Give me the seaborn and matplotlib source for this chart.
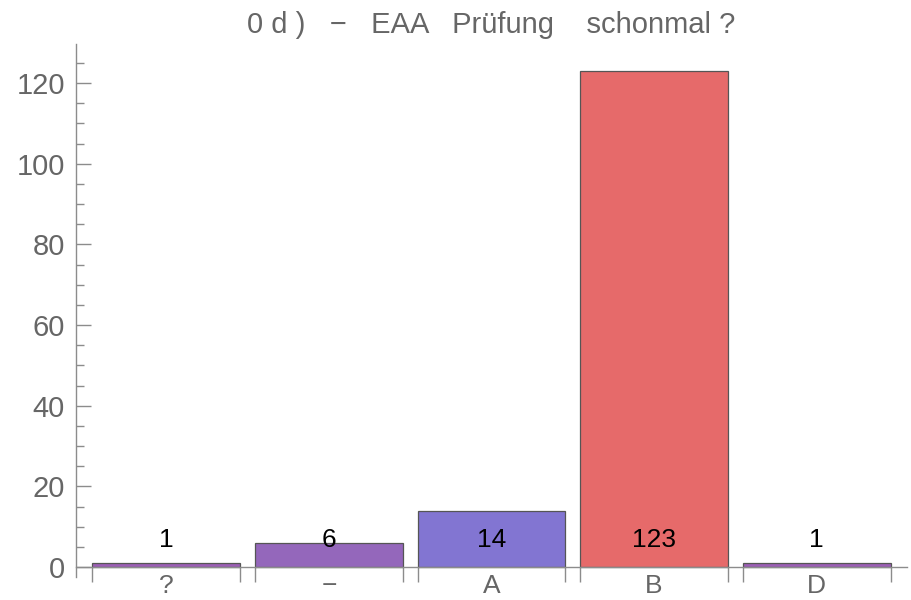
import matplotlib
matplotlib.use("Agg")
import matplotlib.pyplot as plt
import seaborn as sns
import numpy as np
import pandas as pd

# data
categories = ["?", "\u2212", "A", "B", "D"]
counts = [1, 6, 14, 123, 1]
bar_colors = ["#9c5fb6", "#9467bb", "#8275d2", "#e66a6a", "#9c5fb6"]
title = "0 d )   \u2212   EAA   Pr\u00fcfung    schonmal ?"

sns.set_theme(style="white")
plt.rcParams['font.family'] = ['Liberation Sans', 'DejaVu Sans']

df = pd.DataFrame({"cat": categories, "n": counts})

fig = plt.figure(figsize=(9.12, 6), dpi=100)
ax = fig.add_axes([76 / 912, 1 - 577 / 600, (907 - 76) / 912, (577 - 44) / 600])

sns.barplot(data=df, x="cat", y="n", hue="cat", palette=bar_colors, legend=False,
            width=0.91, edgecolor="#555555", linewidth=0.9, saturation=1, ax=ax)

ax.set_xlim(-0.555, 4.555)
ax.set_ylim(-2.48, 129.7)

# value labels, all at the same height
for i, v in enumerate(counts):
    ax.text(i, 6.7, str(v), ha="center", va="center", fontsize=19, color="black")

# axes, Mathematica-like
for s in ["top", "right"]:
    ax.spines[s].set_visible(False)
ax.spines["bottom"].set_position(("data", 0))
for s in ["left", "bottom"]:
    ax.spines[s].set_color("#8c8c8c")
    ax.spines[s].set_linewidth(1.0)

ax.set_yticks(np.arange(0, 121, 20))
ax.set_yticks(np.arange(0, 126, 5), minor=True)
ax.tick_params(axis="y", which="both", left=True)
ax.tick_params(axis="y", which="major", direction="in", length=11, width=1,
               color="#8c8c8c", labelsize=21, labelcolor="#666666", pad=8)
ax.tick_params(axis="y", which="minor", direction="in", length=6, width=1,
               color="#8c8c8c")

edges = [i + s * 0.455 for i in range(len(categories)) for s in (-1, 1)]
ax.set_xticks(range(len(categories)))
ax.set_xticklabels(categories)
ax.set_xticks(edges, minor=True)
ax.tick_params(axis="x", which="both", bottom=True)
ax.tick_params(axis="x", which="major", length=0, labelsize=19,
               labelcolor="#666666", pad=5)
ax.tick_params(axis="x", which="minor", direction="out", length=11, width=1,
               color="#8c8c8c")

ax.set_xlabel("")
ax.set_ylabel("")
ax.set_title(title, fontsize=21, color="#666666", pad=8)

fig.savefig("out.png", dpi=100)
